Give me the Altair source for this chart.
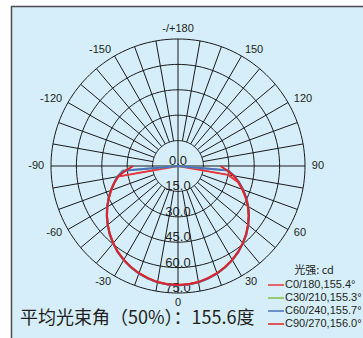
import altair as alt
import pandas as pd
import numpy as np

# ---------------- data ----------------
angles = list(range(-90, 95, 5))  # gamma angle, 0 = straight down

series_names = ["C0/180,155.4°", "C30/210,155.3°", "C60/240,155.7°", "C90/270,156.0°"]
series_colors = ["#E8383D", "#7CC242", "#4A72C2", "#E2222A"]

c0_vals = [0.0, 0.0, 36.0, 39.0, 42.1, 45.1, 48.2, 51.2, 54.1, 56.9, 59.5, 61.9, 64.0, 65.8,
           67.4, 68.6, 69.6, 70.1, 70.3, 70.1, 69.6, 68.6, 67.4, 65.8, 64.0, 61.9, 59.5, 56.9,
           54.0, 50.9, 47.6, 44.0, 40.4, 36.6, 30.0, 0.0, 0.0]
c30_vals = [0.0, 33.0, 36.2, 39.1, 42.2, 45.2, 48.3, 51.3, 54.2, 57.0, 59.6, 62.0, 64.1, 65.9,
            67.5, 68.7, 69.7, 70.2, 70.4, 70.2, 69.7, 68.7, 67.5, 65.9, 64.1, 62.0, 59.6, 57.0,
            54.1, 51.0, 47.8, 44.3, 40.8, 37.2, 33.6, 29.5, 0.0]
c60_vals = [0.0, 32.5, 36.4, 39.2, 42.3, 45.3, 48.4, 51.4, 54.3, 57.1, 59.7, 62.1, 64.2, 66.0,
            67.6, 68.8, 69.8, 70.3, 70.5, 70.3, 69.8, 68.8, 67.6, 66.0, 64.2, 62.1, 59.7, 57.1,
            54.2, 51.2, 48.0, 44.6, 41.1, 37.5, 33.8, 29.8, 0.0]
c90_vals = [26.5, 31.0, 35.8, 39.0, 42.1, 45.1, 48.2, 51.2, 54.1, 56.9, 59.5, 61.9, 64.0, 65.8,
            67.4, 68.6, 69.6, 70.1, 70.3, 70.1, 69.6, 68.6, 67.4, 65.8, 64.0, 61.9, 59.5, 56.9,
            54.0, 51.0, 47.7, 44.2, 40.6, 37.0, 33.4, 29.0, 25.0]

ring_values = [15, 30, 45, 60, 75]
ring_labels = ["0.0", "15.0", "30.0", "45.0", "60.0", "75.0"]
ring_label_values = [0, 15, 30, 45, 60, 75]

spoke_angles = list(range(-170, 190, 10))
angle_label_values = [-150, -120, -90, -60, -30, 0, 30, 60, 90, 120, 150, 180]
angle_label_texts = ["-150", "-120", "-90", "-60", "-30", "0", "30", "60", "90", "120", "150", "-/+180"]

legend_title = "光强: cd"
beam_text = "平均光束角（50%）：155.6度"

# ---------------- tables ----------------
curve_rows = []
for name, vals in zip(series_names, [c0_vals, c30_vals, c60_vals, c90_vals]):
    for i, (a, v) in enumerate(zip(angles, vals)):
        curve_rows.append({"series": name, "a": a, "r": v, "i": i})
curves = pd.DataFrame(curve_rows)

circ_rows = []
for rv in ring_values:
    for k, a in enumerate(range(0, 362, 2)):
        circ_rows.append({"ring": rv, "a": a, "k": k})
circles = pd.DataFrame(circ_rows)

spokes = pd.DataFrame({"a": spoke_angles,
                       "r0": [0 if a % 90 == 0 else 15 for a in spoke_angles],
                       "r1": [75] * len(spoke_angles)})

ringlab = pd.DataFrame({"r": ring_label_values, "t": ring_labels})
anglab = pd.DataFrame({"a": angle_label_values, "t": angle_label_texts})

# ---------------- scales ----------------
PX = 127 / 75.0
xs = alt.Scale(domain=[-(178 - 11) / PX, (363 - 178) / PX], nice=False, zero=False)
ys = alt.Scale(domain=[-(338 - 166) / PX, (166 - 6) / PX], nice=False, zero=False)

def X(field):
    return alt.X(field, type="quantitative", scale=xs, axis=None)

def Y(field):
    return alt.Y(field, type="quantitative", scale=ys, axis=None)

INK = "#231F20"
GRID = "#1A1A1A"

circle_layer = alt.Chart(circles).transform_calculate(
    x="datum.ring*sin(datum.a*PI/180)", y="-datum.ring*cos(datum.a*PI/180)"
).mark_line(color=GRID, strokeWidth=1).encode(
    x=X("x"), y=Y("y"), detail="ring:N", order="k:Q"
)

spoke_layer = alt.Chart(spokes).transform_calculate(
    x="datum.r0*sin(datum.a*PI/180)", y="-datum.r0*cos(datum.a*PI/180)",
    x2="datum.r1*sin(datum.a*PI/180)", y2="-datum.r1*cos(datum.a*PI/180)"
).mark_rule(color=GRID, strokeWidth=1).encode(
    x=X("x"), y=Y("y"), x2="x2:Q", y2="y2:Q"
)

curve_layer = alt.Chart(curves).transform_calculate(
    x="datum.r*sin(datum.a*PI/180)", y="-datum.r*cos(datum.a*PI/180)"
).mark_line(strokeWidth=2).encode(
    x=X("x"), y=Y("y"), order="i:Q",
    color=alt.Color("series:N",
                    scale=alt.Scale(domain=series_names, range=series_colors),
                    legend=alt.Legend(title=legend_title, orient="none", legendX=256, legendY=258.5,
                                      symbolType="stroke", symbolSize=256, symbolStrokeWidth=1.5,
                                      labelFontSize=11, titleFontSize=11, titleFontWeight="normal",
                                      titleAnchor="middle", padding=0, rowPadding=0,
                                      clipHeight=12.4, labelOffset=0, titlePadding=3.3,
                                      labelFont="Liberation Sans", titleFont="Noto Sans CJK SC",
                                      labelColor=INK, titleColor=INK))
)

ring_text = alt.Chart(ringlab).transform_calculate(
    x="0", y="-datum.r"
).mark_text(fontSize=13, font="Liberation Sans", color=INK, baseline="alphabetic",
            align="center", dy=-1).encode(x=X("x"), y=Y("y"), text="t:N")

R_SIDE = 79
R_END = 81
ang_right = alt.Chart(anglab).transform_filter("datum.a > 0 && datum.a < 180").transform_calculate(
    x=f"{R_SIDE}*sin(datum.a*PI/180)", y=f"-{R_SIDE}*cos(datum.a*PI/180)"
).mark_text(fontSize=11, font="Liberation Sans", color=INK, align="left", baseline="middle").encode(
    x=X("x"), y=Y("y"), text="t:N")
ang_left = alt.Chart(anglab).transform_filter("datum.a < 0").transform_calculate(
    x=f"{R_SIDE}*sin(datum.a*PI/180)", y=f"-{R_SIDE}*cos(datum.a*PI/180)"
).mark_text(fontSize=11, font="Liberation Sans", color=INK, align="right", baseline="middle").encode(
    x=X("x"), y=Y("y"), text="t:N")
ang_end = alt.Chart(anglab).transform_filter("datum.a == 0 || datum.a == 180").transform_calculate(
    x=f"{R_END}*sin(datum.a*PI/180)", y=f"-{R_END}*cos(datum.a*PI/180)"
).mark_text(fontSize=11, font="Liberation Sans", color=INK, align="center", baseline="middle").encode(
    x=X("x"), y=Y("y"), text="t:N")

beam_layer = alt.Chart(pd.DataFrame({"t": [beam_text]})).mark_text(
    fontSize=18, font="Noto Sans CJK SC", color=INK, align="left", baseline="middle"
).encode(x=alt.value(9), y=alt.value(313), text="t:N")

frame_left = alt.Chart(pd.DataFrame({"k": [0]})).mark_rule(color="#4D4D4D", strokeWidth=1.5).encode(
    x=alt.value(0.5), y=alt.value(0), y2=alt.value(332))
frame_top = alt.Chart(pd.DataFrame({"k": [0]})).mark_rule(color="#4D4D4D", strokeWidth=1.5).encode(
    y=alt.value(0.5), x=alt.value(0), x2=alt.value(352))

chart = alt.layer(
    circle_layer, spoke_layer, ring_text, curve_layer, ang_right, ang_left, ang_end,
    beam_layer, frame_left, frame_top
).properties(
    width=352, height=332,
    padding={"left": 11, "top": 6, "right": 0, "bottom": 0},
    autosize=alt.AutoSizeParams(type="none"),
    background="white",
).configure_view(fill="#D5EEFA", stroke=None)

chart.save("out.html", embed_options={"renderer": "svg", "actions": False})
